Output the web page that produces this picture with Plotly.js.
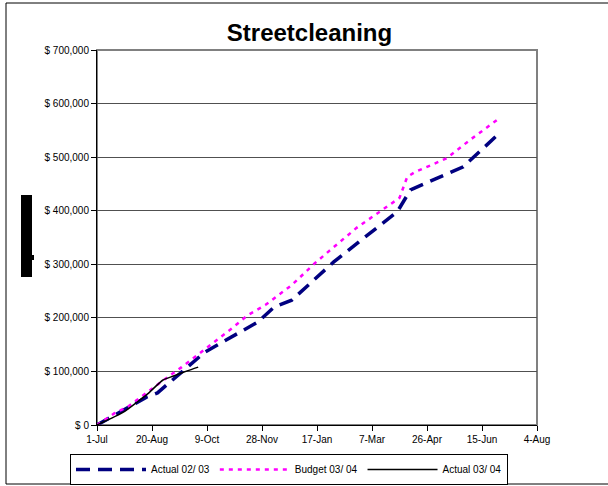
<!DOCTYPE html>
<html>
<head>
<meta charset="utf-8">
<script src="https://cdn.plot.ly/plotly-3.0.1.min.js"></script>
<style>
  html, body { margin: 0; padding: 0; background: #fff; }
  #chart { width: 608px; height: 486px; }
</style>
</head>
<body>
<div id="chart"></div>
<script>
// Cumulative street-cleaning spend, fiscal year July to June
var actual0203Dates = ['2003-07-01', '2003-08-15', '2003-08-25', '2003-10-07', '2003-11-24', '2003-12-09',
  '2003-12-25', '2004-02-01', '2004-03-02', '2004-03-30', '2004-04-11', '2004-05-29', '2004-07-01'];
var actual0203Values = [0, 52000, 60000, 136000, 192000, 220000,
  233000, 304000, 353000, 398000, 439000, 482000, 545000];

var budget0304Dates = ['2003-07-01', '2003-07-17', '2003-07-29', '2003-08-16', '2003-09-01', '2003-09-16',
  '2003-09-28', '2003-10-16', '2003-11-01', '2003-11-15', '2003-12-01', '2003-12-25', '2004-01-15',
  '2004-01-31', '2004-02-22', '2004-03-16', '2004-04-01', '2004-04-08', '2004-04-15', '2004-05-14',
  '2004-06-04', '2004-07-01'];
var budget0304Values = [0, 22000, 34000, 62000, 86000, 108000,
  127000, 155000, 181000, 205000, 224000, 261000, 302000,
  330000, 368000, 401000, 424000, 463000, 472000, 498000,
  532000, 573000];

var actual0304Dates = ['2003-07-01', '2003-07-25', '2003-08-06', '2003-08-16', '2003-08-30',
  '2003-09-08', '2003-09-21', '2003-10-01'];
var actual0304Values = [0, 24000, 42000, 58000, 84000, 91000, 101000, 108000];

var xTickDates = ['2003-07-01', '2003-08-20', '2003-10-09', '2003-11-28', '2004-01-17',
  '2004-03-07', '2004-04-26', '2004-06-15', '2004-08-04'];

var seriesNames = ['Actual 02/ 03', 'Budget 03/ 04', 'Actual 03/ 04'];
var chartTitle = 'Streetcleaning';

// plot-area geometry in page pixels
var W = 608, H = 486;
var M = { l: 97, r: 71, t: 50, b: 61, autoexpand: false };
var pw = W - M.l - M.r, ph = H - M.t - M.b;
function px(x) { return (x - M.l) / pw; }
function py(y) { return (H - M.b - y) / ph; }

var FONT = 'Liberation Sans, Arial, Helvetica, sans-serif';

var traces = [
  {
    x: actual0203Dates, y: actual0203Values, name: seriesNames[0],
    type: 'scatter', mode: 'lines',
    line: { color: '#000080', width: 3.5, dash: '14px,8px' }
  },
  {
    x: budget0304Dates, y: budget0304Values, name: seriesNames[1],
    type: 'scatter', mode: 'lines',
    line: { color: '#ff00ff', width: 2.5, dash: '4px,5px' }
  },
  {
    x: actual0304Dates, y: actual0304Values, name: seriesNames[2],
    type: 'scatter', mode: 'lines',
    line: { color: '#000000', width: 1.5, shape: 'spline', smoothing: 0.6 }
  }
];

var layout = {
  width: W, height: H,
  margin: M,
  paper_bgcolor: '#fff', plot_bgcolor: '#fff',
  font: { family: FONT, size: 10, color: '#000' },
  title: {
    text: chartTitle,
    font: { family: FONT, size: 24, weight: 'bold', color: '#000' },
    xref: 'container', yref: 'container',
    x: 309.5 / W, xanchor: 'center',
    y: 1 - 33 / H, yanchor: 'middle'
  },
  xaxis: {
    type: 'date',
    range: [xTickDates[0], xTickDates[xTickDates.length - 1]],
    tickmode: 'array', tickvals: xTickDates, tickformat: '%-d-%b',
    ticks: 'outside', ticklen: 5, tickcolor: '#000', tickwidth: 1,
    showgrid: false, zeroline: false,
    showline: true, linecolor: '#000', linewidth: 1,
    tickfont: { family: FONT, size: 10, color: '#000' },
    fixedrange: true
  },
  yaxis: {
    range: [0, 700000], dtick: 100000, tick0: 0,
    tickprefix: '$ ', tickformat: ',d',
    ticks: 'outside', ticklen: 5, tickcolor: '#000', tickwidth: 1,
    showgrid: true, gridcolor: '#505050', gridwidth: 1,
    zeroline: false,
    showline: true, linecolor: '#000', linewidth: 1,
    tickfont: { family: FONT, size: 10, color: '#000' },
    fixedrange: true
  },
  showlegend: true,
  legend: {
    orientation: 'h',
    x: px(70), xanchor: 'left',
    y: py(454), yanchor: 'top',
    bordercolor: '#000', borderwidth: 1, bgcolor: '#fff',
    itemwidth: 70,
    font: { family: FONT, size: 10, color: '#000' },
    traceorder: 'normal'
  },
  shapes: [
    // plot-area frame (grey on the open sides)
    { type: 'rect', xref: 'paper', yref: 'paper', x0: 0, y0: 0, x1: 1, y1: 1,
      line: { color: '#808080', width: 2 }, layer: 'below' },
    // chart-area frame
    { type: 'rect', xref: 'paper', yref: 'paper', x0: px(6), y0: py(484), x1: px(612), y1: py(3),
      line: { color: '#000', width: 1 }, layer: 'below' },
    // axis-title block
    { type: 'rect', xref: 'paper', yref: 'paper', x0: px(21), y0: py(277), x1: px(32), y1: py(195),
      line: { width: 0 }, fillcolor: '#000' },
    { type: 'rect', xref: 'paper', yref: 'paper', x0: px(32), y0: py(260), x1: px(34), y1: py(255),
      line: { width: 0 }, fillcolor: '#000' }
  ]
};

Plotly.newPlot('chart', traces, layout, { displayModeBar: false, staticPlot: true });
</script>
</body>
</html>
